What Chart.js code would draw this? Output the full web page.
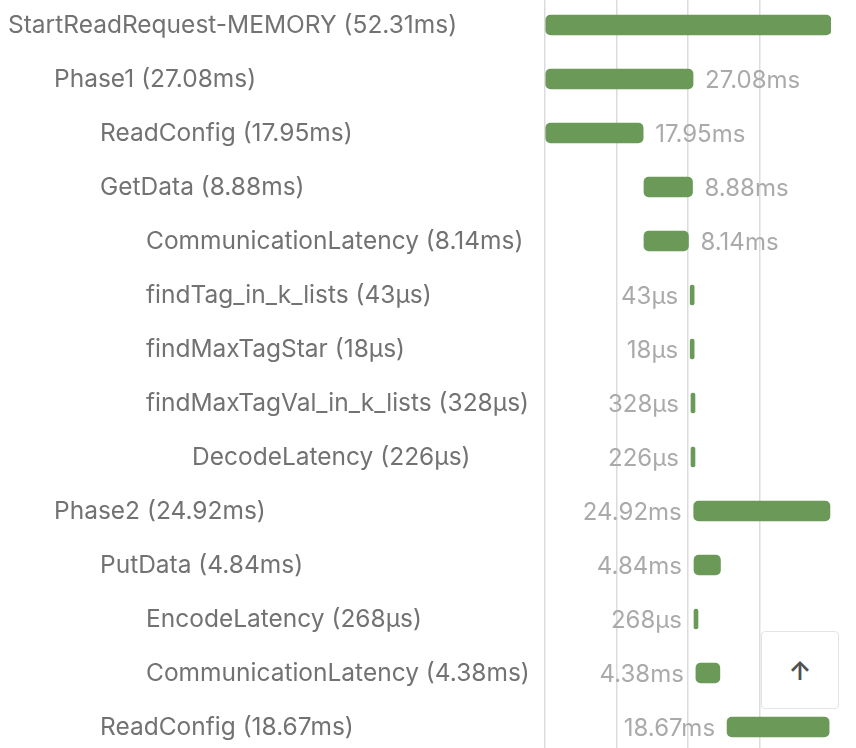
<!DOCTYPE html>
<html>
<head>
<meta charset="utf-8">
<script src="https://cdn.jsdelivr.net/npm/chart.js@4"></script>
<style>
  html, body { margin: 0; padding: 0; background: #fff; overflow: hidden; }
  #wrap { position: absolute; left: 0; top: -2px; width: 856px; height: 756px; }
  #to-top {
    position: absolute; left: 761px; top: 631px; width: 76px; height: 76px;
    border: 1px solid #e3e3e3; border-radius: 4px; background: #fff;
    font: 600 26px Inter, sans-serif; color: #4f4f4f;
    display: flex; align-items: center; justify-content: center;
  }
</style>
</head>
<body>
<div id="wrap"><canvas id="trace"></canvas></div>
<div id="to-top">↑</div>
<script>
// span names, nesting depth, start offset (ms) and duration (ms)
const spanNames = ['StartReadRequest-MEMORY', 'Phase1', 'ReadConfig', 'GetData',
  'CommunicationLatency', 'findTag_in_k_lists', 'findMaxTagStar', 'findMaxTagVal_in_k_lists',
  'DecodeLatency', 'Phase2', 'PutData', 'EncodeLatency', 'CommunicationLatency', 'ReadConfig'];
const spanDepths = [0, 1, 2, 2, 3, 3, 3, 3, 4, 1, 2, 3, 3, 2];
const spanStarts = [0, 0, 0, 18.1, 18.1, 26.55, 26.55, 26.7, 26.7, 27.2, 27.25, 27.25, 27.6, 33.3];
const spanDurations = [52.31, 27.08, 17.95, 8.88, 8.14, 0.043, 0.018, 0.328, 0.226, 24.92, 4.84, 0.268, 4.38, 18.67];
const totalMs = 52.31;

const FONT = 'Inter, "Open Sans", sans-serif';

function fmtDuration(ms) {
  if (ms < 1) return Math.round(ms * 1000) + 'µs';
  return ms.toFixed(2) + 'ms';
}

const labels = spanNames.map((n, i) => `${n} (${fmtDuration(spanDurations[i])})`);
const ranges = spanStarts.map((s, i) => [s, s + spanDurations[i]]);

// draws the indented span names on the left and the duration next to each bar
const spanLabels = {
  id: 'spanLabels',
  afterDatasetsDraw(chart) {
    const { ctx, scales: { y } } = chart;
    const meta = chart.getDatasetMeta(0);
    ctx.save();
    ctx.textBaseline = 'middle';
    labels.forEach((text, i) => {
      const yc = y.getPixelForValue(i);
      ctx.font = '24.5px ' + FONT;
      ctx.fillStyle = '#727272';
      ctx.textAlign = 'left';
      ctx.fillText(text, 8 + spanDepths[i] * 46, yc + 1);

      const bar = meta.data[i];
      const left = Math.min(bar.x, bar.base);
      const right = Math.max(bar.x, bar.base);
      const val = fmtDuration(spanDurations[i]);
      ctx.font = '24px ' + FONT;
      ctx.fillStyle = '#aaaaaa';
      if (spanStarts[i] > totalMs / 2) {
        ctx.textAlign = 'right';
        ctx.fillText(val, left - 12, yc + 2);
      } else {
        const w = ctx.measureText(val).width;
        if (right + 12 + w > chart.width) return;
        ctx.textAlign = 'left';
        ctx.fillText(val, right + 12, yc + 2);
      }
    });
    ctx.restore();
  }
};

new Chart(document.getElementById('trace'), {
  type: 'bar',
  data: {
    labels,
    datasets: [{
      data: ranges,
      backgroundColor: '#6b9a58',
      borderRadius: 5,
      borderSkipped: false,
      barThickness: 20,
      minBarLength: 4
    }]
  },
  options: {
    indexAxis: 'y',
    responsive: true,
    maintainAspectRatio: false,
    animation: false,
    layout: { padding: { left: 0, right: 25, top: 0, bottom: 0 } },
    scales: {
      x: {
        min: 0,
        max: totalMs,
        afterBuildTicks: (scale) => {
          scale.ticks = [0, 1, 2, 3].map(k => ({ value: k * totalMs / 4 }));
        },
        afterFit: (scale) => { scale.height = 0; },
        ticks: { display: false },
        border: { display: false },
        grid: { color: '#dcdcdc', lineWidth: 1.5, drawTicks: false }
      },
      y: {
        afterFit: (scale) => { scale.width = 545; },
        ticks: { display: false },
        border: { display: false },
        grid: { display: false }
      }
    },
    plugins: {
      legend: { display: false },
      tooltip: { enabled: false }
    }
  },
  plugins: [spanLabels]
});
</script>
</body>
</html>
